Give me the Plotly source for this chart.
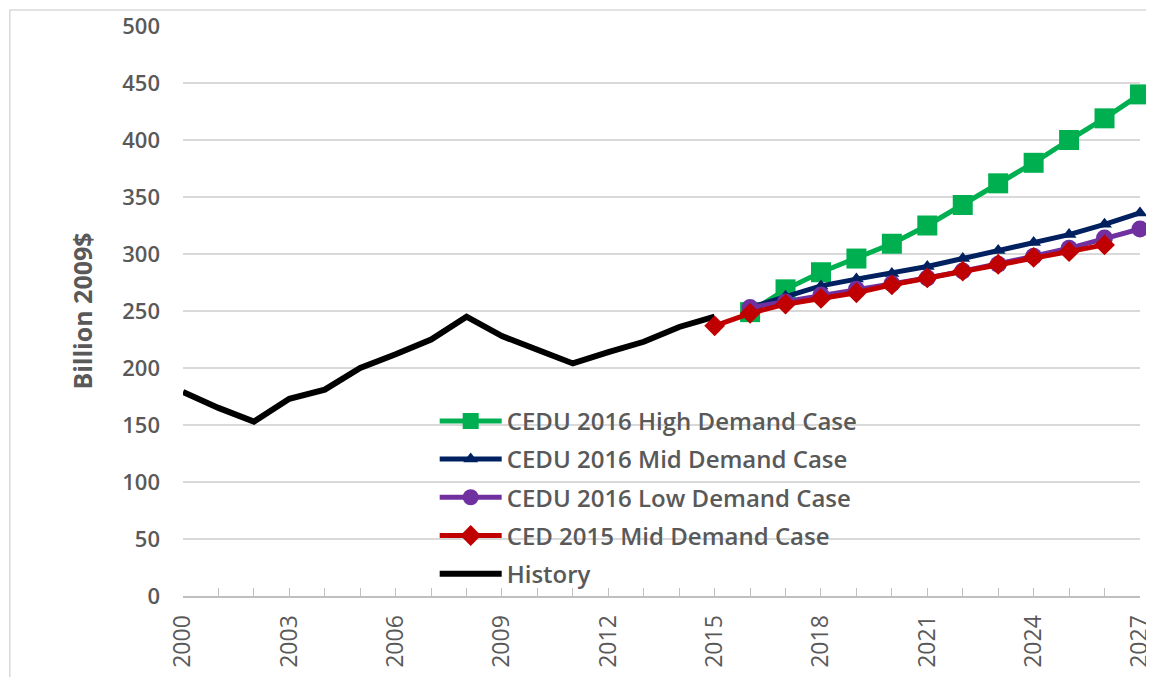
"""Electricity demand outlook: history plus CEDU / CED forecast cases."""

import plotly.graph_objects as go

hist_years = list(range(2000, 2016))
history = [179, 165, 153, 173, 181, 200, 212, 225, 245, 228, 216, 204, 214, 223, 236, 245]

fc_years = list(range(2016, 2028))
cedu_high = [249, 269, 284, 296, 309, 325, 343, 362, 380, 400, 419, 440]
cedu_mid = [253, 263, 272, 278, 283, 289, 296, 303, 310, 317, 326, 336]
cedu_low = [253, 258, 264, 269, 274, 279, 285, 291, 298, 305, 314, 322]

ced_years = list(range(2015, 2027))
ced_mid = [237, 248, 256, 261, 266, 273, 279, 285, 291, 297, 302, 308]

GRAY = "#595959"
FONT = "Open Sans"

fig = go.Figure()

fig.add_trace(go.Scatter(
    x=hist_years, y=history, name="History", mode="lines",
    line=dict(color="black", width=6),
    legendgroup="g9", legendrank=9, cliponaxis=False,
))

series = [
    ("CEDU 2016 High Demand Case", fc_years, cedu_high, "#00b050", "square", 20),
    ("CEDU 2016 Mid Demand Case", fc_years, cedu_mid, "#002060", "triangle-up", 13),
    ("CEDU 2016 Low Demand Case", fc_years, cedu_low, "#7030a0", "circle", 17),
    ("CED 2015 Mid Demand Case", ced_years, ced_mid, "#c00000", "diamond", 16),
]
for i, (name, xs, ys, color, symbol, size) in enumerate(series):
    fig.add_trace(go.Scatter(
        x=xs, y=ys, name=name, mode="lines+markers",
        line=dict(color=color, width=5),
        marker=dict(symbol=symbol, size=size, color=color),
        legendgroup=f"g{i}", legendrank=i, cliponaxis=False,
    ))

# page body has an 8px margin, so the figure is sized to fit the window
fig.update_layout(
    width=1146, height=669,
    margin=dict(l=175, r=14, t=18, b=81),
    paper_bgcolor="white", plot_bgcolor="white",
    font=dict(family=FONT, color=GRAY, size=17),
    showlegend=True,
    legend=dict(
        x=0.263, y=0.346, xanchor="left", yanchor="top",
        bgcolor="rgba(0,0,0,0)", traceorder="grouped", tracegroupgap=4,
        font=dict(size=24, color=GRAY, family=FONT, weight=600),
        itemwidth=62,
    ),
    shapes=[dict(
        type="rect", xref="paper", yref="paper",
        x0=-0.181, x1=1.05, y0=-0.2, y1=1.028,
        line=dict(color="#d9d9d9", width=1.5),
    )],
)

fig.update_xaxes(
    range=[2000, 2027.001], tickmode="linear", tick0=2000, dtick=3,
    tickangle=-90, ticks="inside", ticklen=8, tickcolor="#bfbfbf",
    minor=dict(ticks="inside", dtick=1, ticklen=8, tickcolor="#bfbfbf"),
    showgrid=False, showline=True, linecolor="#bfbfbf", linewidth=2,
    tickfont=dict(size=23, color=GRAY, family=FONT),
    ticklabelstandoff=8, ticklabeloverflow="allow",
    zeroline=False, automargin=False,
)
fig.update_yaxes(
    range=[0, 500], dtick=50, showgrid=True, gridcolor="#d9d9d9", gridwidth=2,
    zeroline=False, showline=False, ticks="", ticklabelstandoff=22,
    tickfont=dict(size=22, color=GRAY, family=FONT, weight=600),
    title=dict(text="Billion 2009$", standoff=22,
               font=dict(size=25, color=GRAY, family=FONT, weight="bold")),
    automargin=False,
)

fig.write_html("out.html")
